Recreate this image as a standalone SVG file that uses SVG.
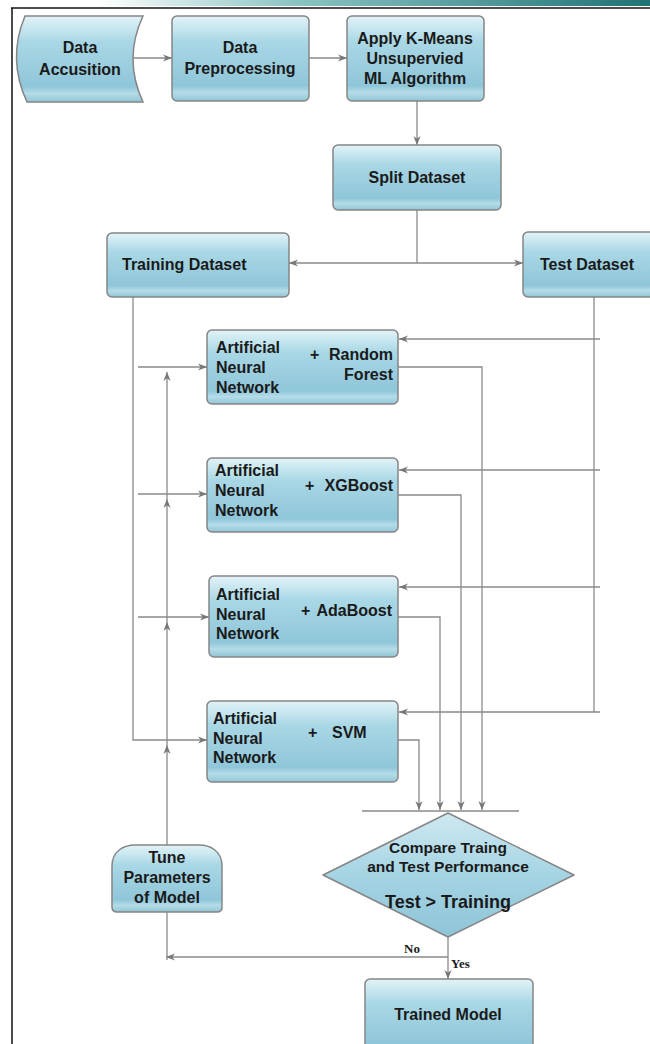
<svg xmlns="http://www.w3.org/2000/svg" width="650" height="1044" viewBox="0 0 650 1044">
<defs>
<linearGradient id="bar" x1="0" y1="0" x2="1" y2="0">
<stop offset="0" stop-color="#ffffff"/>
<stop offset="0.15" stop-color="#ffffff"/>
<stop offset="0.45" stop-color="#8cc4c4"/>
<stop offset="1" stop-color="#1f7275"/>
</linearGradient>
<linearGradient id="box" x1="0" y1="0" x2="0" y2="1">
<stop offset="0" stop-color="#e2f2f7"/>
<stop offset="0.15" stop-color="#c6e6ef"/>
<stop offset="0.3" stop-color="#a9d7e5"/>
<stop offset="0.82" stop-color="#8fc6d9"/>
<stop offset="0.9" stop-color="#b5dce8"/>
<stop offset="1" stop-color="#92c5d6"/>
</linearGradient>
<linearGradient id="dia" x1="0" y1="0" x2="0" y2="1">
<stop offset="0" stop-color="#cfe9f1"/>
<stop offset="0.5" stop-color="#a5d4e3"/>
<stop offset="1" stop-color="#8ec5d8"/>
</linearGradient>
<marker id="ah" viewBox="0 0 10 10" refX="10" refY="5" markerWidth="9" markerHeight="9" markerUnits="userSpaceOnUse" orient="auto">
<path d="M0,1 L10,5 L0,9 L3,5 Z" fill="#777"/>
</marker>
<style>
.n{fill:url(#box);stroke:#858585;stroke-width:1.5}
.t{font-family:"Liberation Sans",Arial,sans-serif;font-weight:bold;font-size:16px;fill:#1a1a1a}
.c{text-anchor:middle}
.r{text-anchor:end}
.l{fill:none;stroke:#8a8a8a;stroke-width:1.3}
.a{marker-end:url(#ah)}
.s{font-family:"Liberation Serif","Times New Roman",serif;font-weight:bold;font-size:13px;fill:#1a1a1a}
</style>
</defs>
<rect x="0" y="0" width="650" height="1044" fill="#ffffff"/>
<rect x="0" y="0" width="650" height="6" fill="url(#bar)"/>
<line x1="11" y1="8" x2="650" y2="8" stroke="#111" stroke-width="1.5"/>
<line x1="12" y1="8" x2="12" y2="1044" stroke="#111" stroke-width="1.5"/>

<g id="connectors">
<line class="l a" x1="133" y1="58" x2="172" y2="58"/>
<line class="l a" x1="309" y1="58" x2="347" y2="58"/>
<line class="l a" x1="417" y1="101" x2="417" y2="145"/>
<line class="l" x1="417" y1="210" x2="417" y2="263"/>
<line class="l a" x1="417" y1="263" x2="289" y2="263"/>
<line class="l a" x1="417" y1="263" x2="523" y2="263"/>
<path class="l a" d="M133,297 V740 H207"/>
<line class="l a" x1="138" y1="367" x2="207" y2="367"/>
<line class="l a" x1="138" y1="494" x2="207" y2="494"/>
<line class="l a" x1="138" y1="617" x2="209" y2="617"/>
<line class="l a" x1="167" y1="845" x2="167" y2="745"/>
<line class="l a" x1="167" y1="745" x2="167" y2="622"/>
<line class="l a" x1="167" y1="622" x2="167" y2="499"/>
<line class="l a" x1="167" y1="499" x2="167" y2="372"/>
<line class="l" x1="594" y1="297" x2="594" y2="712"/>
<line class="l a" x1="600" y1="339" x2="399" y2="339"/>
<line class="l a" x1="600" y1="470" x2="399" y2="470"/>
<line class="l a" x1="600" y1="587" x2="399" y2="587"/>
<line class="l a" x1="600" y1="712" x2="399" y2="712"/>
<path class="l a" d="M398,367 H482 V810"/>
<path class="l a" d="M398,495 H461 V810"/>
<path class="l a" d="M398,617 H440 V810"/>
<path class="l a" d="M398,740 H419 V810"/>
<line class="l" x1="362" y1="811" x2="519" y2="811"/>
<line class="l a" x1="448" y1="937" x2="448" y2="979"/>
<line class="l a" x1="448" y1="957" x2="166" y2="957"/>
<line class="l" x1="167" y1="912" x2="167" y2="960"/>
</g>

<g id="data-accusition">
<path class="n" d="M25,16 L143,16 Q123,59 143,102 L27,102 Q7,59 25,16 Z"/>
<text class="t c" x="80" y="53">Data</text>
<text class="t c" x="80" y="75">Accusition</text>
</g>
<g id="data-preprocessing">
<rect class="n" x="172" y="16" width="137" height="85" rx="5"/>
<text class="t c" x="240" y="53">Data</text>
<text class="t c" x="240" y="74">Preprocessing</text>
</g>
<g id="kmeans">
<rect class="n" x="347" y="16" width="137" height="85" rx="5"/>
<text class="t c" x="415" y="44">Apply K-Means</text>
<text class="t c" x="415" y="64">Unsupervied</text>
<text class="t c" x="415" y="84">ML Algorithm</text>
</g>
<g id="split">
<rect class="n" x="333" y="145" width="168" height="65" rx="5"/>
<text class="t c" x="417" y="183">Split Dataset</text>
</g>
<g id="training">
<rect class="n" x="107" y="233" width="182" height="64" rx="5"/>
<text class="t" x="122" y="270">Training Dataset</text>
</g>
<g id="test">
<rect class="n" x="523" y="232" width="135" height="65" rx="5"/>
<text class="t" x="540" y="270">Test Dataset</text>
</g>
<g id="ann-rf">
<rect class="n" x="207" y="330" width="191" height="74" rx="5"/>
<text class="t" x="216" y="353">Artificial</text>
<text class="t" x="216" y="373">Neural</text>
<text class="t" x="216" y="393">Network</text>
<text class="t" x="310" y="360">+</text>
<text class="t r" x="393" y="360">Random</text>
<text class="t r" x="393" y="380">Forest</text>
</g>
<g id="ann-xgb">
<rect class="n" x="207" y="458" width="191" height="74" rx="5"/>
<text class="t" x="215" y="476">Artificial</text>
<text class="t" x="215" y="496">Neural</text>
<text class="t" x="215" y="516">Network</text>
<text class="t" x="305" y="491">+</text>
<text class="t r" x="393" y="491">XGBoost</text>
</g>
<g id="ann-ada">
<rect class="n" x="209" y="576" width="189" height="81" rx="5"/>
<text class="t" x="216" y="600">Artificial</text>
<text class="t" x="216" y="620">Neural</text>
<text class="t" x="216" y="639">Network</text>
<text class="t" x="301" y="616">+</text>
<text class="t r" x="392" y="616">AdaBoost</text>
</g>
<g id="ann-svm">
<rect class="n" x="207" y="701" width="191" height="81" rx="5"/>
<text class="t" x="213" y="724">Artificial</text>
<text class="t" x="213" y="744">Neural</text>
<text class="t" x="213" y="763">Network</text>
<text class="t" x="308" y="738">+</text>
<text class="t" x="332" y="738">SVM</text>
</g>
<g id="tune">
<path class="n" d="M112,866 C112,850 125,845 135,845 L199,845 C209,845 222,850 222,866 L222,907 Q222,912 217,912 L117,912 Q112,912 112,907 Z"/>
<text class="t c" x="167" y="863">Tune</text>
<text class="t c" x="167" y="883">Parameters</text>
<text class="t c" x="167" y="903">of Model</text>
</g>
<g id="compare">
<path d="M448,813 L574,875 L448,937 L323,875 Z" fill="url(#dia)" stroke="#858585" stroke-width="1.5" stroke-linejoin="round"/>
<text class="t c" x="448" y="853" style="font-size:15.5px">Compare Traing</text>
<text class="t c" x="448" y="872" style="font-size:15.5px">and Test Performance</text>
<text class="t c" x="448" y="908" style="font-size:19px" textLength="126" lengthAdjust="spacingAndGlyphs">Test &gt; Training</text>
</g>
<g id="trained">
<rect class="n" x="365" y="979" width="168" height="80" rx="5"/>
<text class="t c" x="448" y="1020">Trained Model</text>
</g>
<text class="s" x="404" y="953">No</text>
<text class="s" x="451" y="968">Yes</text>
</svg>
